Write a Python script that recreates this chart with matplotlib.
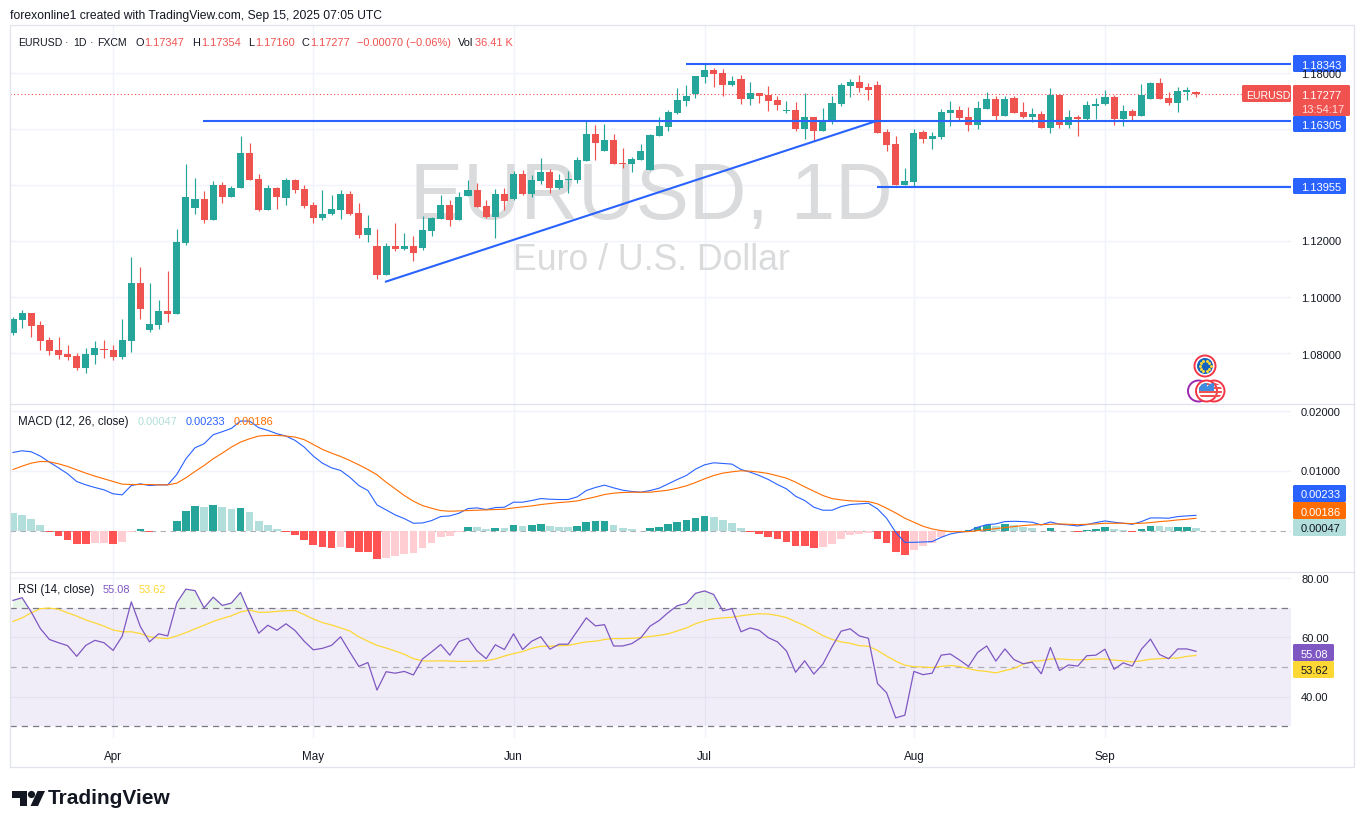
import numpy as np
import matplotlib
matplotlib.use("Agg")
import matplotlib.pyplot as plt
from matplotlib.patches import Rectangle, Circle, Polygon, FancyBboxPatch

W, H = 1364, 829
FONT = "Liberation Sans"
plt.rcParams["font.family"] = [FONT, "DejaVu Sans"]

# ---------------- data ----------------
opens = [1.0871,1.0919,1.0944,1.0901,1.0848,1.0812,1.0798,1.0791,1.0748,1.0794,1.0816,1.0812,1.0787,1.0844,1.1051,1.0883,1.0901,1.0951,1.0941,1.1194,
         1.1319,1.1351,1.1276,1.1401,1.1358,1.1390,1.1515,1.1422,1.1312,1.1390,1.1355,1.1419,1.1387,1.1330,1.1283,1.1298,
         1.1312,1.1369,1.1301,1.1223,1.1183,1.1080,1.1183,1.1173,1.1183,1.1176,1.1237,1.1280,1.1330,1.1276,1.1362,1.1383,1.1326,1.1287,1.1369,1.1351,
         1.1440,1.1369,1.1415,1.1448,1.1390,1.1420,1.1419,1.1487,1.1583,1.1523,1.1562,1.1480,1.1476,1.1490,1.1455,1.1576,
         1.1608,1.1658,1.1701,1.1726,1.1787,1.1812,1.1801,1.1758,1.1780,1.1709,1.1730,1.1723,1.1705,1.1666,1.1669,1.1601,1.1644,1.1594,1.1626,1.1690,
         1.1755,1.1769,1.1751,1.1758,1.1591,1.1548,1.1400,1.1412,1.1591,1.1566,1.1573,1.1658,1.1669,1.1644,1.1615,1.1673,1.1709,1.1648,1.1712,1.1662,
         1.1644,1.1655,1.1605,1.1723,1.1615,1.1644,1.1637,1.1685,1.1690,1.1715,1.1637,1.1666,1.1648,1.1709,1.1765,1.1712,1.1694,1.1735,1.17347]
highs = [1.0930,1.0955,1.0944,1.0916,1.0858,1.0858,1.0830,1.0801,1.0819,1.0844,1.0848,1.0830,1.0923,1.1144,1.1108,1.1051,1.0991,1.1094,1.1244,1.1476,
         1.1426,1.1380,1.1415,1.1412,1.1398,1.1576,1.1551,1.1441,1.1401,1.1394,1.1426,1.1422,1.1401,1.1340,1.1383,1.1365,
         1.1383,1.1380,1.1337,1.1294,1.1244,1.1194,1.1266,1.1230,1.1219,1.1291,1.1287,1.1365,1.1348,1.1376,1.1419,1.1408,1.1348,1.1387,1.1390,1.1451,
         1.1455,1.1437,1.1498,1.1458,1.1440,1.1451,1.1501,1.1633,1.1615,1.1619,1.1583,1.1533,1.1501,1.1548,1.1583,1.1644,
         1.1669,1.1748,1.1758,1.1790,1.1837,1.1819,1.1815,1.1790,1.1794,1.1769,1.1730,1.1755,1.1719,1.1701,1.1698,1.1730,1.1644,1.1676,1.1719,1.1765,
         1.1780,1.1794,1.1765,1.1773,1.1601,1.1576,1.1462,1.1601,1.1598,1.1591,1.1673,1.1701,1.1683,1.1680,1.1701,1.1733,1.1719,1.1719,1.1719,1.1698,
         1.1676,1.1666,1.1748,1.1726,1.1669,1.1651,1.1701,1.1712,1.1740,1.1723,1.1687,1.1673,1.1762,1.1769,1.1783,1.1733,1.1751,1.1751,1.17354]
lows = [1.0867,1.0891,1.0858,1.0812,1.0794,1.0780,1.0776,1.0741,1.0730,1.0762,1.0783,1.0776,1.0780,1.0805,1.0923,1.0876,1.0887,1.0912,1.0941,1.1187,
        1.1298,1.1265,1.1276,1.1337,1.1358,1.1390,1.1419,1.1308,1.1312,1.1315,1.1330,1.1373,1.1319,1.1265,1.1276,1.1294,
        1.1280,1.1294,1.1212,1.1198,1.1066,1.1080,1.1166,1.1169,1.1130,1.1169,1.1219,1.1280,1.1255,1.1276,1.1362,1.1323,1.1283,1.1212,1.1312,1.1348,
        1.1365,1.1358,1.1405,1.1373,1.1387,1.1373,1.1408,1.1487,1.1490,1.1523,1.1476,1.1462,1.1448,1.1490,1.1455,1.1576,
        1.1594,1.1655,1.1683,1.1712,1.1765,1.1751,1.1719,1.1755,1.1690,1.1687,1.1694,1.1666,1.1669,1.1658,1.1594,1.1566,1.1558,1.1594,1.1619,1.1683,
        1.1715,1.1733,1.1705,1.1587,1.1523,1.1400,1.1400,1.1394,1.1551,1.1530,1.1566,1.1612,1.1633,1.1594,1.1601,1.1673,1.1633,1.1648,1.1658,1.1641,
        1.1626,1.1605,1.1587,1.1605,1.1605,1.1576,1.1633,1.1637,1.1687,1.1615,1.1612,1.1633,1.1648,1.1709,1.1709,1.1687,1.1662,1.1705,1.17160]
closes = [1.0923,1.0944,1.0898,1.0844,1.0808,1.0794,1.0787,1.0748,1.0798,1.0819,1.0812,1.0787,1.0848,1.1051,1.0958,1.0905,1.0951,1.0941,1.1198,1.1358,
          1.1351,1.1276,1.1401,1.1358,1.1390,1.1515,1.1419,1.1312,1.1390,1.1358,1.1419,1.1383,1.1326,1.1283,1.1298,1.1315,
          1.1369,1.1298,1.1223,1.1248,1.1080,1.1183,1.1173,1.1183,1.1158,1.1241,1.1283,1.1330,1.1276,1.1358,1.1383,1.1323,1.1287,1.1369,1.1344,1.1440,
          1.1369,1.1419,1.1448,1.1390,1.1419,1.1423,1.1490,1.1583,1.1551,1.1562,1.1476,1.1476,1.1494,1.1523,1.1580,1.1612,
          1.1662,1.1705,1.1719,1.1790,1.1812,1.1798,1.1758,1.1773,1.1709,1.1730,1.1719,1.1701,1.1687,1.1668,1.1601,1.1644,1.1594,1.1633,1.1694,1.1758,
          1.1769,1.1748,1.1740,1.1587,1.1544,1.1400,1.1416,1.1587,1.1566,1.1576,1.1662,1.1669,1.1641,1.1615,1.1676,1.1709,1.1648,1.1709,1.1658,1.1644,
          1.1655,1.1605,1.1723,1.1615,1.1644,1.1637,1.1687,1.1687,1.1715,1.1637,1.1666,1.1648,1.1723,1.1765,1.1709,1.1694,1.1737,1.1737,1.17277]

macd_hist = [.00296,.00263,.00196,.00095,-.0002,-.0009,-.00156,-.00223,-.00223,-.00207,-.00205,-.00223,-.0019,-.0002,.00028,-.0002,-.0001,-.0001,
             .00162,.0033,.00413,.00397,.0043,.00397,.00363,.0038,.00313,.00162,.00095,.00028,-.0002,-.00073,-.00156,-.0024,-.00274,-.0029,-.00274,-.0029,
             -.00358,-.00358,-.00475,-.00458,-.00425,-.00391,-.00374,-.0029,-.00207,-.00106,-.00089,-.0002,.00061,.00059,.00028,.00045,.00043,.00095,.00078,
             .00095,.00112,.00078,.00061,.00059,.00078,.00145,.00162,.00162,.00095,.00045,.00028,-.00006,.00045,.00061,.00112,.00145,.00179,.00212,.00246,
             .00229,.00179,.00128,.00045,-.00022,-.00056,-.00106,-.0014,-.0019,-.00257,-.00257,-.0029,-.00274,-.00223,-.0014,-.00073,-.00056,-.00039,
             -.0014,-.00207,-.00358,-.00408,-.00318,-.00257,-.00201,-.00112,-.00028,-.00011,.00011,.00056,.00101,.00084,.00112,.00089,.00061,.00045,-.00006,
             .00045,-.00006,-.00006,-.00017,.00011,.00028,.00061,.00028,.00011,-.00017,.00028,.00078,.00076,.00061,.00061,.00061,.00047]
macd_line = [.01307,.01335,.01318,.01246,.01145,.0105,.0095,.00821,.00765,.00721,.00682,.00615,.00598,.00754,.00782,.00754,.00765,.00765,.00939,.01201,.01385,
             .01453,.01603,.01654,.01709,.01832,.01832,.01721,.01676,.0162,.01581,.01508,.01397,.01246,.01128,.0105,.01006,.00894,.00754,.0067,.0043,.00346,.00263,
             .00201,.00123,.00128,.00168,.00235,.00246,.0029,.00369,.0038,.00352,.00385,.00391,.00475,.00475,.00503,.00536,.00525,.0052,.0052,.00564,.0067,.00721,
             .0076,.00715,.00676,.00654,.00642,.0067,.00709,.00782,.00855,.00922,.01028,.011,.01134,.01123,.01112,.01022,.00978,.00922,.00855,.00771,.00698,.00575,
             .00503,.00391,.00341,.00341,.00402,.00436,.00447,.00458,.00363,.00207,-.00028,-.00196,-.00196,-.0019,-.00184,-.00112,-.00056,-.00028,-.00011,.00056,.001,
             .00112,.00151,.00156,.00151,.0014,.00095,.00145,.00106,.00095,.00078,.001,.00134,.00162,.0014,.00123,.00106,.00151,.00212,.00212,.00207,.00235,.00246,.00255]
macd_signal = [.01022,.01078,.01128,.01156,.01151,.01117,.01073,.01017,.00961,.00911,.00866,.00821,.00777,.00771,.00771,.00771,.00765,.00765,.00793,.00883,.00989,
               .01089,.01201,.01296,.01397,.0148,.01536,.01581,.01592,.01592,.01581,.01564,.0152,.01441,.01358,.01296,.0124,.01173,.011,.01022,.00933,.0081,.00698,
               .00587,.00492,.00419,.00374,.00335,.00324,.0033,.00335,.00341,.00346,.00352,.00358,.0038,.00397,.00413,.00436,.00453,.00469,.0048,.00497,.00531,.00564,
               .00603,.00626,.00637,.00642,.00642,.00642,.00659,.00676,.00709,.00749,.00804,.00866,.00922,.00961,.00983,.01,.00994,.00978,.00955,.00916,.00877,.0081,
               .00732,.00659,.00587,.00536,.00514,.00497,.00492,.00486,.00447,.00374,.00296,.00207,.0014,.00073,.00028,0.0,-.00017,-.00017,-.00017,0.0,.00017,.00034,
               .0005,.00067,.00084,.00095,.001,.00106,.00112,.00106,.001,.00106,.00112,.00123,.00123,.00123,.00117,.00123,.00134,.00151,.00162,.00179,.0019,.00207]

rsi = [72.5,73.4,68.6,63.0,59.3,58.2,57.2,53.6,57.3,59.0,58.2,55.6,60.4,72.0,63.6,58.5,61.2,60.5,71.7,76.3,75.8,70.0,73.6,70.8,71.6,75.2,68.1,61.4,64.1,62.4,
       64.6,62.3,58.7,55.8,56.3,57.3,60.2,55.1,50.2,51.5,42.2,48.4,47.9,48.5,47.3,52.7,55.1,57.6,54.0,58.6,59.7,55.4,52.8,57.5,55.9,61.2,55.9,58.7,60.2,56.0,
       57.7,57.7,62.1,66.6,63.9,64.3,57.1,57.1,57.9,59.9,63.8,65.7,68.4,70.7,71.5,74.9,75.7,74.5,69.0,69.7,61.9,63.2,62.4,59.9,58.5,55.4,48.2,52.1,47.6,51.0,
       56.8,62.1,62.9,60.5,59.7,44.4,41.3,32.8,33.7,48.5,47.4,47.9,54.0,54.4,52.4,50.2,54.9,57.1,52.0,56.1,52.5,51.1,51.6,47.7,56.6,48.8,50.7,50.3,53.8,54.0,
       56.0,49.2,51.4,50.3,56.0,59.4,54.2,52.8,56.1,56.1,55.3]
rsi_ma = [65.4,66.6,68.3,69.7,69.9,69.5,68.3,67.2,65.9,64.9,63.8,62.5,61.9,61.9,61.3,60.2,59.8,59.6,60.5,61.6,62.9,64.1,65.4,66.4,67.3,68.6,69.2,68.5,68.5,68.8,
          69.0,69.1,67.7,66.2,65.0,64.2,63.2,62.2,60.2,58.7,57.3,56.4,55.4,54.3,52.8,52.1,52.0,52.1,52.0,51.9,51.9,52.0,52.1,52.7,53.7,54.5,55.2,56.3,57.0,57.0,
          57.2,57.3,57.9,58.5,58.7,59.3,59.6,59.6,59.7,59.9,60.3,60.7,61.2,62.2,63.2,64.6,65.6,66.3,66.6,66.8,67.3,67.7,68.0,67.9,67.4,66.7,65.3,64.0,62.3,60.6,
          59.3,58.5,58.0,57.2,57.0,55.6,53.7,52.0,50.6,50.1,50.0,49.8,50.2,50.5,50.2,49.4,48.8,48.5,48.0,48.8,49.5,50.9,52.0,52.1,52.7,52.7,52.5,52.4,52.5,52.7,
          52.7,52.3,52.1,51.7,52.1,52.6,52.8,53.0,53.0,53.6,53.9]

month_pos = [11, 33, 55, 76, 99, 120]
month_labels = ["Apr", "May", "Jun", "Jul", "Aug", "Sep"]
price_ticks = [1.18, 1.16, 1.14, 1.12, 1.10, 1.08]
price_tick_labels = ["1.18000", "1.12000", "1.10000", "1.08000"]
macd_ticks = [0.02, 0.01]
rsi_ticks = [80, 60, 40]
level_top, level_mid, level_low = 1.18343, 1.16305, 1.13955
last_close = 1.17277
trend_x, trend_y = [40.88, 94.95], [1.1055, 1.16305]
level_top_start, level_mid_start, level_low_start = 73.96, 20.88, 94.95

# ---------------- layout ----------------
UP, DOWN = "#26a69a", "#ef5350"
GRID = "#f0f3fa"
BORDER = "#e0e3eb"
TXT = "#131722"
XL = (-0.33, 140.44)

fig = plt.figure(figsize=(W / 100, H / 100), dpi=100, facecolor="white")


def panel(top, bottom):
    ax = fig.add_axes([10 / W, 1 - bottom / H, 1281 / W, (bottom - top) / H])
    ax.set_xlim(*XL)
    ax.set_xticks(month_pos)
    ax.set_xticklabels([])
    ax.tick_params(length=0, labelleft=False, labelbottom=False)
    ax.grid(True, color=GRID, lw=1.0, zorder=0)
    ax.set_axisbelow(True)
    for s in ax.spines.values():
        s.set_visible(False)
    return ax


n = len(opens)
x = np.arange(n)
o, h, l, c = map(np.array, (opens, highs, lows, closes))
col = np.where(c >= o, UP, DOWN)

# price
ax1 = panel(27, 405)
ax1.set_ylim(1.0619, 1.1969)
ax1.set_yticks(price_ticks)
ax1.text(0.5004, 0.545, "EURUSD, 1D", transform=ax1.transAxes, fontsize=57.4, color="#dadbdd",
         ha="center", va="center", family="Liberation Sans", zorder=1)
ax1.text(0.5004, 0.381, "Euro / U.S. Dollar", transform=ax1.transAxes, fontsize=25.7, color="#dadbdd",
         ha="center", va="center", family="Liberation Sans", zorder=1)
ax1.axhline(last_close, color=DOWN, lw=0.8, ls=(0, (1, 2.2)), zorder=2)
ax1.vlines(x, l, h, colors=col, lw=0.85, zorder=3)
ax1.bar(x, np.maximum(np.abs(c - o), 0.0004), bottom=np.minimum(o, c), width=0.77, color=col, zorder=4, lw=0)
BLUE = "#2962ff"
for lvl, start in ((level_top, level_top_start), (level_mid, level_mid_start), (level_low, level_low_start)):
    ax1.plot([start, XL[1]], [lvl, lvl], color=BLUE, lw=1.5, zorder=5, solid_capstyle="butt")
ax1.plot(trend_x, trend_y, color=BLUE, lw=1.5, zorder=5, solid_capstyle="butt")

# MACD
ax2 = panel(405, 573)
ax2.set_ylim(-0.00692, 0.02117)
ax2.set_yticks(macd_ticks)
hist = np.array(macd_hist)
prev = np.r_[hist[0] + 1, hist[:-1]]
hcol = np.where(hist >= 0, np.where(hist >= prev, UP, "#b2dfdb"), np.where(hist <= prev, "#ff5252", "#ffcdd2"))
ax2.axhline(0, color="#787b86", lw=0.8, ls=(0, (5, 4)), alpha=0.6, zorder=2)
ax2.bar(x, hist, width=0.84, color=hcol, lw=0, zorder=3)
ax2.plot(x, macd_line, color=BLUE, lw=0.8, zorder=4)
ax2.plot(x, macd_signal, color="#ff6d00", lw=0.8, zorder=5)

# RSI
ax3 = panel(573, 739)
ax3.set_ylim(26.0, 82.1)
ax3.set_yticks(rsi_ticks)
ax3.axhspan(30, 70, color="#7e57c2", alpha=0.1, lw=0, zorder=1)
for lvl, a in ((70, 1.0), (50, 0.55), (30, 1.0)):
    ax3.axhline(lvl, color="#787b86", lw=0.9, ls=(0, (5, 4)), alpha=a, zorder=2)
r = np.array(rsi)
ax3.fill_between(x, 70, r, where=r > 70, interpolate=True, color="#4caf50", alpha=0.13, lw=0, zorder=2)
ax3.plot(x, rsi_ma, color="#fdd835", lw=0.9, zorder=3)
ax3.plot(x, r, color="#7e57c2", lw=0.9, zorder=4)

# ---------------- overlay in pixel coordinates ----------------
ov = fig.add_axes([0, 0, 1, 1], facecolor="none", zorder=10)
ov.set_xlim(0, W)
ov.set_ylim(H, 0)
ov.axis("off")


def T(px, py, s, color=TXT, size=8.0, ha="left", **kw):
    ov.text(px, py + 1, s, color=color, fontsize=size, ha=ha, va="center", **kw)


ov.add_patch(Rectangle((10, 26), 1344, 742, fc="none", ec=BORDER, lw=0.9))
for yy in (405, 573):
    ov.plot([10, 1354], [yy, yy], color=BORDER, lw=0.9)

T(10, 15, "forexonline1 created with TradingView.com, Sep 15, 2025 07:05 UTC", size=8.75)
RED = "#f0524f"
for px, s in ((18, "EURUSD"), (65, "·"), (73, "1D"), (90, "·"), (97, "FXCM")):
    T(px, 42, s, size=7.6)
for px, s in ((135, "O"), (192, "H"), (248, "L"), (302, "C"), (458, "Vol")):
    T(px, 42, s, size=7.9)
for px, s in ((144, "1.17347"), (201, "1.17354"), (255, "1.17160"), (310, "1.17277"), (357, "−0.00070 (−0.06%)"), (475, "36.41 K")):
    T(px, 42, s, color=RED, size=7.9)
T(18, 421, "MACD (12, 26, close)", size=8.3)
T(138, 421, "0.00047", color="#b2dfdb", size=7.9)
T(186, 421, "0.00233", color=BLUE, size=7.9)
T(234, 421, "0.00186", color="#ff6d00", size=7.9)
T(18, 589, "RSI (14, close)", size=8.3)
T(103, 589, "55.08", color="#7e57c2", size=7.9)
T(139, 589, "53.62", color="#fdd835", size=7.9)

# axis labels
for yy, s in zip((74, 241, 298, 355), price_tick_labels):
    T(1301, yy, s)
for yy, s in ((412, "0.02000"), (471, "0.01000")):
    T(1301, yy, s)
for yy, s in ((579, "80.00"), (638, "60.00"), (697, "40.00")):
    T(1301, yy, s)
for i, s in zip(month_pos, month_labels):
    T(13 + 9.1 * i, 756, s, ha="center", size=8.4)


def tag(x0, x1, y0, y1, fc, s, tc="white", tx=None, size=8.0):
    ov.add_patch(FancyBboxPatch((x0, y0), x1 - x0, y1 - y0, boxstyle="round,pad=0,rounding_size=1.5", fc=fc, ec="none"))
    if s:
        T(1301 if tx is None else tx, (y0 + y1) / 2, s, color=tc, size=size)


tag(1293, 1346, 56, 73, BLUE, "1.18343")
tag(1293, 1346, 117, 133, BLUE, "1.16305")
tag(1293, 1346, 179, 195, BLUE, "1.13955")
tag(1242, 1291, 86, 103, RED, "EURUSD", tx=1246, size=7.6)
tag(1293, 1350, 86, 117, RED, "")
T(1301, 94.5, "1.17277", color="white")
T(1301, 109, "13:54:17", color="#fde0de")
tag(1293, 1346, 486, 503, BLUE, "0.00233")
tag(1293, 1346, 503, 520, "#ff6d00", "0.00186")
tag(1293, 1346, 520, 537, "#b2dfdb", "0.00047", tc=TXT)
tag(1293, 1334, 645, 662, "#7e57c2", "55.08")
tag(1293, 1334, 662, 679, "#fdd835", "53.62", tc=TXT)


# event icons
def flag(cx, cy, kind, edge="#f23645"):
    disc = Circle((cx, cy), 10.5, fc="white", ec=edge, lw=1.4, zorder=5)
    ov.add_patch(disc)
    inner = Circle((cx, cy), 8, transform=ov.transData)
    if kind == "eu":
        ov.add_patch(Circle((cx, cy), 8, fc="#1565c0", ec="none", zorder=6))
        for a in np.arange(0, 360, 36):
            ov.plot(cx + 5.5 * np.cos(np.radians(a)), cy + 5.5 * np.sin(np.radians(a)), "o", ms=1.1, color="#fdd835", zorder=7)
    elif kind == "us":
        for k in range(4):
            rr = Rectangle((cx - 8, cy - 8 + k * 4), 16, 2.2, fc="#f0524f", ec="none", zorder=6)
            ov.add_patch(rr)
            rr.set_clip_path(inner)
        rr = Rectangle((cx - 8, cy - 8), 8, 8, fc="#3f8be0", ec="none", zorder=7)
        ov.add_patch(rr)
        rr.set_clip_path(inner)


flag(1205, 367, "eu")
flag(1198.5, 392, "none", edge="#9c27b0")
flag(1214, 392, "us")
flag(1206.5, 392, "us")

# logo
ov.add_patch(Polygon([(12, 792), (27, 792), (27, 807), (20, 807), (20, 799), (12, 799)], fc="#131722", ec="none"))
ov.add_patch(Circle((31.5, 795.5), 3.6, fc="#131722", ec="none"))
ov.add_patch(Polygon([(37.5, 792), (45, 792), (38, 807), (30.5, 807)], fc="#131722", ec="none"))
T(48, 798, "TradingView", size=15, weight="bold", color="#131722")

fig.savefig("out.png", dpi=100, facecolor="white")
